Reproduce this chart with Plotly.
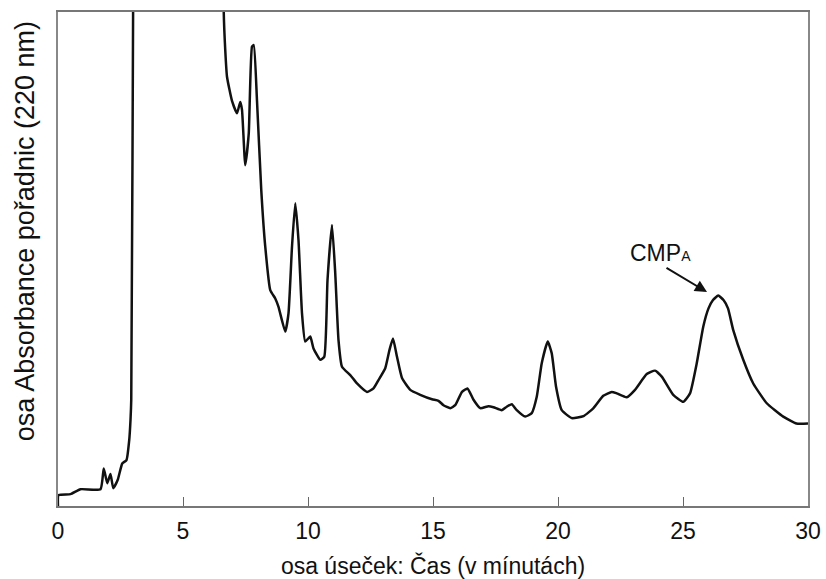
import plotly.graph_objects as go

# Retention time (min) and absorbance (arbitrary units, 0-100 = full scale)
time_min = [
    0.0, 0.02, 0.5, 0.9, 1.70, 1.83, 1.97, 2.10, 2.21, 2.39, 2.57, 2.74, 2.85, 2.90, 2.93, 3.02, 3.05,
    6.60, 6.63, 6.69, 6.76, 6.96, 7.16, 7.29, 7.36, 7.49, 7.63, 7.76, 7.83, 7.96, 8.13,
    8.29, 8.49, 8.69, 8.82, 9.09, 9.22, 9.36, 9.49, 9.62, 9.76, 9.89, 10.09, 10.22, 10.49,
    10.65, 10.78, 10.96, 11.09, 11.22, 11.36, 11.69, 11.96, 12.36, 12.62, 12.82, 13.09, 13.26, 13.40,
    13.56, 13.76, 14.09, 14.49, 14.96, 15.22, 15.42, 15.69, 15.89, 16.16, 16.38, 16.62, 16.89,
    17.22, 17.42, 17.75, 17.95, 18.15, 18.35, 18.69, 18.95, 19.15, 19.35, 19.59, 19.75, 19.92,
    20.15, 20.55, 21.02, 21.42, 21.81, 22.15, 22.35, 22.75, 23.08, 23.55, 23.88, 24.15, 24.61,
    25.01, 25.28, 25.55, 25.81, 26.02, 26.2, 26.41, 26.62, 26.8, 27.01, 27.41, 27.81, 28.35,
    29.01, 29.54, 30.0,
]
absorbance = [
    0.0, 2.2, 2.4, 3.4, 3.4, 7.6, 4.6, 6.5, 3.6, 5.3, 8.6, 9.3, 13.4, 17.4, 21.5, 120.0, 140.0,
    140.0, 100.0, 92.3, 86.9, 82.0, 79.5, 81.8, 80.2, 69.0, 75.4, 93.0, 93.3, 82.0, 64.0,
    52.5, 43.7, 42.0, 40.3, 35.3, 39.0, 52.5, 61.3, 53.8, 39.0, 33.3, 34.3, 31.9, 29.6,
    30.2, 45.7, 56.9, 47.1, 33.6, 28.2, 26.5, 24.8, 23.1, 23.8, 25.5, 27.9, 31.6, 33.9,
    30.2, 25.9, 23.5, 22.5, 21.6, 21.3, 20.4, 19.8, 20.4, 23.1, 23.8, 21.5, 19.8,
    20.2, 20.0, 19.4, 20.1, 20.6, 19.4, 18.1, 18.8, 22.1, 28.9, 33.3, 30.9, 24.2,
    19.4, 17.8, 18.2, 19.8, 22.3, 23.1, 22.8, 22.0, 23.5, 26.7, 27.4, 26.2, 22.5,
    21.1, 22.8, 28.9, 36.3, 40.0, 41.7, 42.6, 41.7, 40.0, 35.6, 29.6, 24.8, 20.8,
    18.1, 16.7, 16.7,
]
x_ticks = [0, 5, 10, 15, 20, 25, 30]

peak_label = "CMP<span style='font-size:14px'>A</span>"
peak_time, peak_abs = 25.96, 43.3
label_time, label_abs = 24.28, 48.4

fig = go.Figure()
fig.add_trace(go.Scatter(
    x=time_min, y=absorbance, mode="lines",
    line=dict(color="#111111", width=2.5, shape="spline", smoothing=0.45),
    hoverinfo="skip", showlegend=False,
))

fig.add_annotation(
    x=peak_time, y=peak_abs, xref="x", yref="y",
    ax=label_time, ay=label_abs, axref="x", ayref="y",
    text="", showarrow=True, arrowhead=2, arrowsize=1.2, arrowwidth=2,
    arrowcolor="#111111",
)
fig.add_annotation(
    x=24.1, y=48.2, xref="x", yref="y", text=peak_label, showarrow=False,
    font=dict(family="Liberation Sans, Arial", size=23, color="#111111"),
    xanchor="center", yanchor="bottom",
)
fig.add_annotation(
    x=-0.0447, y=0.557, xref="paper", yref="paper",
    text="osa Absorbance pořadnic (220 nm)", showarrow=False, textangle=-90,
    font=dict(family="Liberation Sans, Arial", size=27, color="#111111"),
    xanchor="center", yanchor="middle",
)

fig.update_layout(
    width=826, height=579,
    margin=dict(l=58, r=18, t=12, b=73, autoexpand=False),
    paper_bgcolor="white", plot_bgcolor="white",
    font=dict(family="Liberation Sans, Arial", size=23, color="#111111"),
    xaxis=dict(
        range=[0, 30], tickvals=x_ticks, ticktext=[str(v) for v in x_ticks],
        ticks="inside", ticklen=9, tickwidth=1.2, tickcolor="#666666",
        ticklabelstandoff=4,
        showline=True, linecolor="#777777", linewidth=1.5, mirror=True,
        showgrid=False, zeroline=False, automargin=False,
        title=dict(text="osa úseček: Čas (v mínutách)", standoff=16,
                   font=dict(size=23)),
        tickfont=dict(size=23),
    ),
    yaxis=dict(
        range=[0, 100], showticklabels=False, ticks="",
        showline=True, linecolor="#888888", linewidth=1.5, mirror=True,
        showgrid=False, zeroline=False, automargin=False,
    ),
)

fig.write_html("out.html")
